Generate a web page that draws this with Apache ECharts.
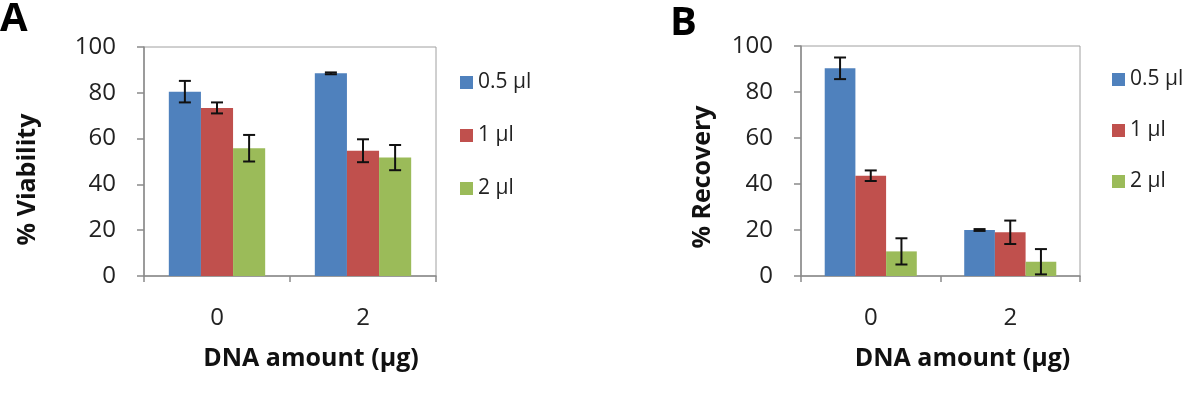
<!DOCTYPE html>
<html>
<head>
<meta charset="utf-8">
<script src="https://cdn.jsdelivr.net/npm/echarts@6/dist/echarts.min.js"></script>
<style>
  html, body { margin: 0; padding: 0; background: #fff; }
  #chart { width: 1199px; height: 405px; }
</style>
</head>
<body>
<div id="chart"></div>
<script>
// data
const categories = ['0', '2']
const seriesNames = ['0.5 µl', '1 µl', '2 µl']
const colors = ['#4F81BD', '#C0504D', '#9BBB59']

const viability05 = [80.5, 88.5]
const viability1 = [73.4, 54.7]
const viability2 = [55.8, 51.7]
const viabilityErr05 = [4.7, 0.4]
const viabilityErr1 = [2.4, 5.0]
const viabilityErr2 = [5.8, 5.5]

const recovery05 = [90.3, 20.0]
const recovery1 = [43.6, 19.0]
const recovery2 = [10.7, 6.2]
const recoveryErr05 = [4.7, 0.4]
const recoveryErr1 = [2.3, 5.1]
const recoveryErr2 = [5.7, 5.5]

const yTicks = [0, 20, 40, 60, 80, 100]

const BAR_GAP = 0.34
const font = '"Open Sans", "Noto Sans", sans-serif'
const axisGrey = '#8a8a8a'

const chart = echarts.init(document.getElementById('chart'))

// error bar renderer, k = position of bar inside the group
const errorRenderer = (k) => (params, api) => {
  const idx = api.value(0)
  const val = api.value(1)
  const err = api.value(2)
  const band = api.size([1, 0])[0]
  const bw = band * (1 - BAR_GAP) / 3
  const c = api.coord([idx, val])
  const x = c[0] + (k - 1) * bw
  const hi = api.coord([idx, val + err])[1]
  const lo = api.coord([idx, val - err])[1]
  const cap = 6
  const style = { stroke: '#111', lineWidth: 2 }
  return {
    type: 'group',
    children: [
      { type: 'line', shape: { x1: x, y1: hi, x2: x, y2: lo }, style },
      { type: 'line', shape: { x1: x - cap, y1: hi, x2: x + cap, y2: hi }, style },
      { type: 'line', shape: { x1: x - cap, y1: lo, x2: x + cap, y2: lo }, style }
    ]
  }
}

const makeX = (gridIndex, padLeft) => ({
  type: 'category',
  gridIndex,
  data: categories,
  name: 'DNA amount (µg)',
  nameLocation: 'middle',
  nameGap: 70,
  nameTextStyle: { fontFamily: font, fontSize: 25, fontWeight: 'bold', color: '#111', padding: [0, 0, 0, padLeft] },
  axisLine: { lineStyle: { color: axisGrey, width: 1.5 } },
  axisTick: { show: true, length: 6, lineStyle: { color: axisGrey, width: 1.5 } },
  axisLabel: { margin: 30, fontFamily: font, fontSize: 24, color: '#222' },
  splitLine: { show: false }
})

const makeY = (gridIndex, name, nameGap, shift) => ({
  type: 'value',
  gridIndex,
  min: 0,
  max: 100,
  interval: 20,
  name,
  nameLocation: 'middle',
  nameGap,
  nameTextStyle: { fontFamily: font, fontSize: 25, fontWeight: 'bold', color: '#111', padding: [0, shift, 0, 0] },
  axisLine: { show: true, lineStyle: { color: axisGrey, width: 1.5 } },
  axisTick: { show: true, length: 7, lineStyle: { color: axisGrey, width: 1.5 } },
  axisLabel: {
    margin: 28,
    fontFamily: font,
    fontSize: 24,
    color: '#222',
    formatter: (v) => yTicks.includes(v) ? String(v) : ''
  },
  splitLine: { show: false }
})

const barSeries = (name, data, i, axisIdx) => ({
  name,
  type: 'bar',
  xAxisIndex: axisIdx,
  yAxisIndex: axisIdx,
  data,
  barGap: '0%',
  barCategoryGap: (BAR_GAP * 100) + '%',
  itemStyle: { color: colors[i] },
  emphasis: { disabled: true }
})

const errSeries = (values, errs, k, axisIdx) => ({
  type: 'custom',
  xAxisIndex: axisIdx,
  yAxisIndex: axisIdx,
  renderItem: errorRenderer(k),
  data: values.map((v, j) => [j, v, errs[j]]),
  z: 10,
  silent: true
})

const legendCommon = {
  orient: 'vertical',
  icon: 'rect',
  itemWidth: 13,
  itemHeight: 13,
  selectedMode: false,
  data: seriesNames,
  textStyle: { fontFamily: font, fontSize: 21, color: '#222' }
}

const option = {
  animation: false,
  backgroundColor: '#fff',
  graphic: [
    { type: 'text', left: 0, top: 0, style: { text: 'A', font: 'bold 40px ' + font, fill: '#000' } },
    { type: 'text', left: 670, top: 4, style: { text: 'B', font: 'bold 40px ' + font, fill: '#000' } }
  ],
  legend: [
    Object.assign({ left: 455, top: 67, itemGap: 32 }, legendCommon),
    Object.assign({ left: 1107, top: 64, itemGap: 30 }, legendCommon)
  ],
  grid: [
    { left: 144, top: 47, width: 292, height: 229, show: true, borderColor: '#a0a0a0', borderWidth: 1 },
    { left: 801, top: 46, width: 279, height: 230, show: true, borderColor: '#a0a0a0', borderWidth: 1 }
  ],
  xAxis: [makeX(0, 42), makeX(1, 44)],
  yAxis: [makeY(0, '% Viability', 104, 36), makeY(1, '% Recovery', 86, 32)],
  series: [
    barSeries(seriesNames[0], viability05, 0, 0),
    barSeries(seriesNames[1], viability1, 1, 0),
    barSeries(seriesNames[2], viability2, 2, 0),
    errSeries(viability05, viabilityErr05, 0, 0),
    errSeries(viability1, viabilityErr1, 1, 0),
    errSeries(viability2, viabilityErr2, 2, 0),
    barSeries(seriesNames[0], recovery05, 0, 1),
    barSeries(seriesNames[1], recovery1, 1, 1),
    barSeries(seriesNames[2], recovery2, 2, 1),
    errSeries(recovery05, recoveryErr05, 0, 1),
    errSeries(recovery1, recoveryErr1, 1, 1),
    errSeries(recovery2, recoveryErr2, 2, 1)
  ]
}

chart.setOption(option)
</script>
</body>
</html>
